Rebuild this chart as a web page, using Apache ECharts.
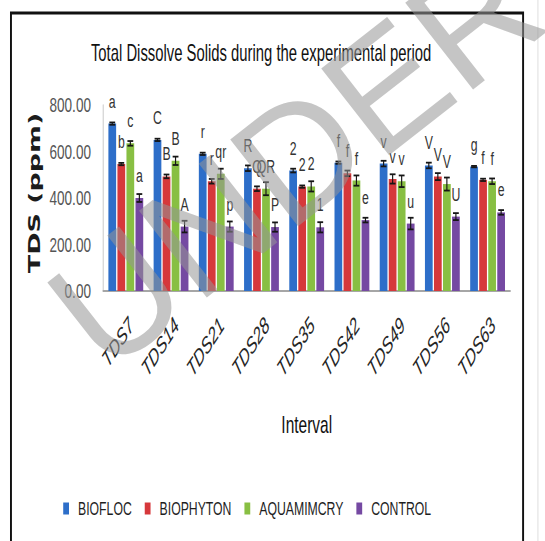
<!DOCTYPE html>
<html>
<head>
<meta charset="utf-8">
<script src="https://cdn.jsdelivr.net/npm/echarts@6/dist/echarts.min.js"></script>
<style>
  html, body { margin: 0; padding: 0; background: #fff; overflow: hidden; }
  #wrap { width: 545px; height: 541px; overflow: hidden; position: relative; }
  /* the chart is laid out wide and condensed horizontally, giving the narrow lettering */
  #chart { width: 845px; height: 541px; transform: scaleX(0.645); transform-origin: 0 0; }
</style>
</head>
<body>
<div id="wrap"><div id="chart"></div></div>
<script>
// Sampling intervals (days)
const categories = ['TDS7', 'TDS14', 'TDS21', 'TDS28', 'TDS35', 'TDS42', 'TDS49', 'TDS56', 'TDS63'];

// Mean TDS (ppm) per treatment
const biofloc    = [720, 650, 590, 528, 518, 552, 548, 540, 535];
const biophyton  = [546, 493, 472, 440, 449, 506, 482, 492, 478];
const aquamimcry = [635, 560, 504, 440, 450, 475, 472, 460, 472];
const control    = [400, 277, 277, 275, 274, 305, 290, 320, 338];

// Standard errors (ppm)
const bioflocErr    = [5, 5, 5, 12, 8, 5, 12, 12, 3];
const biophytonErr  = [5, 8, 10, 10, 5, 12, 20, 15, 5];
const aquamimcryErr = [10, 18, 22, 28, 22, 22, 25, 28, 12];
const controlErr    = [17, 25, 22, 20, 22, 10, 25, 15, 10];

// Significance letters
const bioflocSig    = ['a', 'C', 'r', 'R', '2', 'f', 'v', 'V', 'g'];
const biophytonSig  = ['b', 'B', 'r', 'Q', '2', 'f', 'v', 'V', 'f'];
const aquamimcrySig = ['c', 'B', 'qr', 'QR', '2', 'f', 'v', 'V', 'f'];
const controlSig    = ['a', 'A', 'p', 'P', '1', 'e', 'u', 'U', 'e'];

const yTickLabels = ['0.00', '200.00', '400.00', '600.00', '800.00'];

const treatments = [
  { name: 'BIOFLOC',    values: biofloc,    errs: bioflocErr,    sig: bioflocSig,    color: '#2d6ec9' },
  { name: 'BIOPHYTON',  values: biophyton,  errs: biophytonErr,  sig: biophytonSig,  color: '#d6383b' },
  { name: 'AQUAMIMCRY', values: aquamimcry, errs: aquamimcryErr, sig: aquamimcrySig, color: '#88bf43' },
  { name: 'CONTROL',    values: control,    errs: controlErr,    sig: controlSig,    color: '#7549a2' }
];

const SANS = '"Liberation Sans", Arial, sans-serif';
const SQUEEZE = 0.645;   // horizontal condensing applied to #chart
const BAR_W = 12;
const BAR_GAP = 2;

const chart = echarts.init(document.getElementById('chart'), null, { renderer: 'svg' });

const barSeries = treatments.map(t => ({
  name: t.name,
  type: 'bar',
  barWidth: BAR_W,
  barGap: (BAR_GAP / BAR_W * 100) + '%',
  itemStyle: { color: t.color },
  label: {
    show: true,
    position: 'top',
    distance: 13,
    fontFamily: SANS,
    fontSize: 19,
    color: '#333',
    formatter: p => t.sig[p.dataIndex]
  },
  data: t.values
}));

const errSeries = treatments.map((t, idx) => ({
  name: t.name + ' error',
  type: 'custom',
  z: 5,
  silent: true,
  encode: { x: 0, y: 1 },
  data: t.values.map((v, i) => [i, v, t.errs[i]]),
  renderItem: (params, api) => {
    const c = api.value(0), v = api.value(1), e = api.value(2);
    const off = (idx - 1.5) * (BAR_W + BAR_GAP);
    const hi = api.coord([c, v + e]);
    const lo = api.coord([c, v - e]);
    const x = hi[0] + off;
    const cap = 4.5;
    const style = { stroke: '#161616', lineWidth: 1.8 };
    return {
      type: 'group',
      children: [
        { type: 'line', shape: { x1: x, y1: hi[1], x2: x, y2: lo[1] }, style },
        { type: 'line', shape: { x1: x - cap, y1: hi[1], x2: x + cap, y2: hi[1] }, style },
        { type: 'line', shape: { x1: x - cap, y1: lo[1], x2: x + cap, y2: lo[1] }, style }
      ]
    };
  }
}));

chart.setOption({
  animation: false,
  backgroundColor: '#fff',
  title: {
    text: 'Total Dissolve Solids during the experimental period',
    left: 136,
    top: 36,
    textStyle: { fontFamily: SANS, fontSize: 23, fontWeight: 'normal', color: '#111' }
  },
  legend: {
    data: treatments.map(t => t.name),
    left: 93,
    top: 494,
    icon: 'rect',
    itemWidth: 9,
    itemHeight: 12,
    itemGap: 20,
    textStyle: { fontFamily: SANS, fontSize: 19, color: '#1e1e1e', padding: [0, 0, 0, 9] }
  },
  grid: { left: 160, right: 54, top: 105, bottom: 250, containLabel: false },
  xAxis: {
    type: 'category',
    data: categories,
    name: 'Interval',
    nameLocation: 'middle',
    nameGap: 122,
    nameTextStyle: { fontFamily: SANS, fontSize: 24, color: '#111' },
    axisLine: { lineStyle: { color: '#a6a6a6', width: 2 } },
    axisTick: { show: false },
    axisLabel: {
      rotate: 45,
      margin: 22,
      verticalAlign: 'top',
      fontFamily: SANS,
      fontStyle: 'italic',
      fontSize: 23,
      color: '#262626'
    }
  },
  yAxis: {
    type: 'value',
    min: 0,
    max: 800,
    interval: 200,
    splitLine: { show: false },
    axisTick: { show: false },
    axisLine: { show: true, lineStyle: { color: '#c8c8c8', width: 1.5 } },
    axisLabel: {
      margin: 19,
      fontFamily: SANS,
      fontSize: 21,
      color: '#555',
      formatter: v => yTickLabels[Math.round(v / 200)]
    }
  },
  graphic: [
    {
      type: 'rect',
      z: 200,
      shape: { x: 17, y: 13, width: 794, height: 545 },
      style: { fill: 'none', stroke: '#111', lineWidth: 3 }
    },
    {
      type: 'line',
      z: 200,
      shape: { x1: 834, y1: 0, x2: 834, y2: 541 },
      style: { stroke: '#dcdcdc', lineWidth: 1.5 }
    },
    {
      type: 'text',
      z: 150,
      x: 54,
      y: 193,
      rotation: Math.PI / 2,
      scaleX: 1.12,
      style: {
        text: 'TDS (ppm)',
        font: 'bold 24px "DejaVu Sans", sans-serif',
        fill: '#1c1c1c',
        align: 'center', verticalAlign: 'middle',
        textAlign: 'center', textVerticalAlign: 'middle'
      }
    },
    {
      // stamp drawn at true proportions: the group undoes the horizontal condensing
      type: 'group',
      z: 300,
      x: 187,
      y: 396,
      scaleX: 1 / SQUEEZE,
      children: [{
        type: 'text',
        z: 300,
        rotation: 38 * Math.PI / 180,
        style: {
          text: 'UNDER REVIEW',
          font: '160px "Liberation Sans", sans-serif',
          fill: 'rgba(150,150,150,0.55)',
          align: 'left', verticalAlign: 'bottom',
          textAlign: 'left', textVerticalAlign: 'bottom'
        }
      }]
    }
  ],
  series: [...barSeries, ...errSeries]
});
</script>
</body>
</html>
